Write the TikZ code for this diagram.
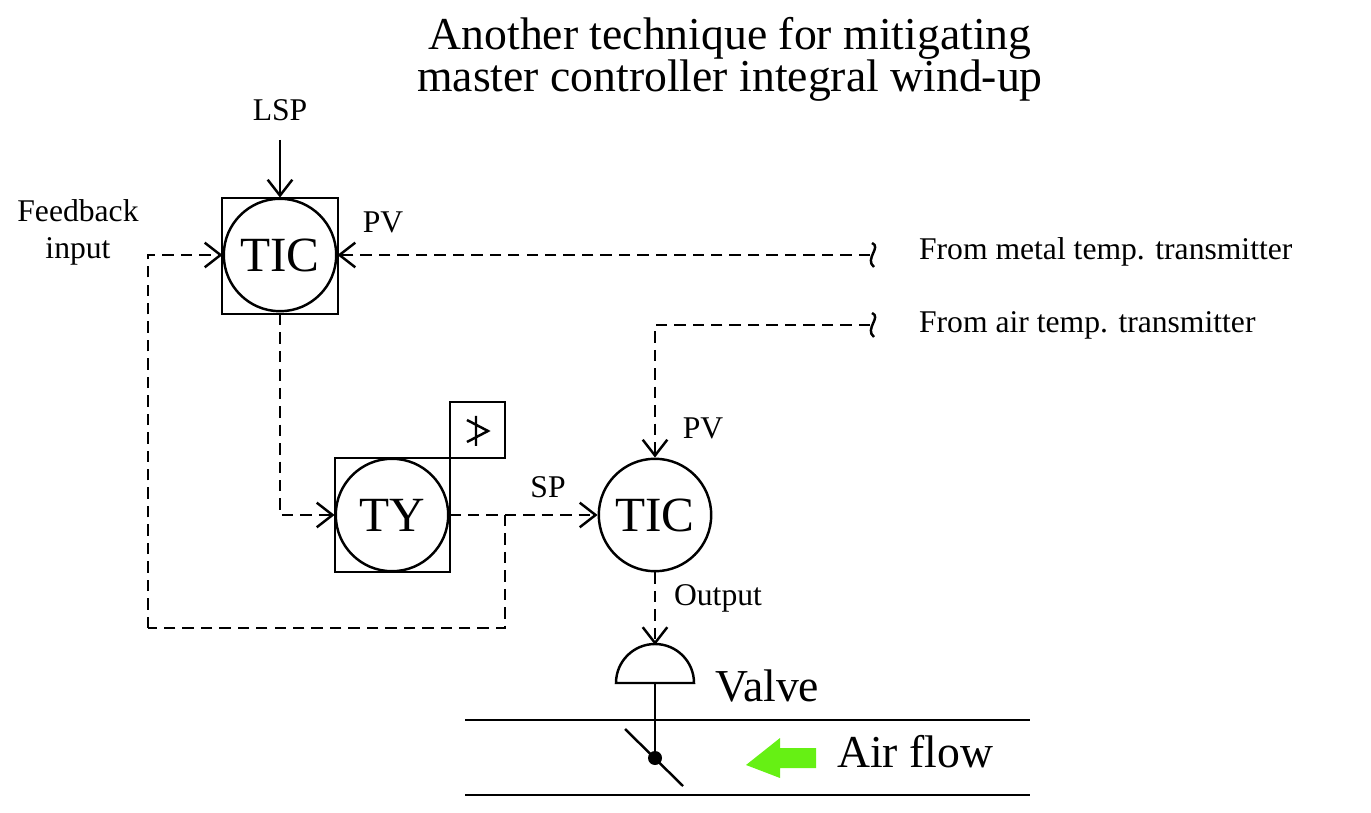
\documentclass[tikz,border=0pt]{standalone}
\usepackage{fontspec}
\setmainfont{Liberation Serif}
\usetikzlibrary{arrows.meta}
\definecolor{flowgreen}{RGB}{102,240,20}
\tikzset{
  sig/.style={line width=1.4pt, dash pattern=on 6.5pt off 4pt},
  tip/.style={-{Straight Barb[length=9pt,width=14pt,line width=1.4pt]}},
  inst/.style={circle, draw, line width=1.4pt, minimum size=64pt, inner sep=0pt, font=\fontsize{28}{28}\selectfont},
  lbl/.style={font=\fontsize{18}{21}\selectfont},
  big/.style={font=\fontsize{26}{26}\selectfont}
}
\begin{document}
\begin{tikzpicture}[x=0.02cm, y=-0.02cm, line width=1.4pt]
  \useasboundingbox (0,0) rectangle (1371,813);
  % title
  \node[font=\fontsize{26}{24}\selectfont, align=center] (title) at (730,59) {Another technique for mitigating\\master controller integral wind-up};
  % instruments
  \node[inst] (tic1) at (280,255) {TIC};
  \draw (222,198) rectangle (338,314);
  \node[inst] (ty) at (392,515) {TY};
  \draw (335,458) rectangle (450,572);
  \draw (450,402) rectangle (505,458);
  \draw (467,420) -- (488,431) -- (467,442) (476,416) -- (476,446);
  \node[inst] (tic2) at (655,515) {TIC};
  % labels
  \node[lbl] (lsp) at (280,110) {LSP};
  \coordinate (lspin) at (280,140);
  \node[lbl, align=center] (fb) at (78,232) {Feedback\\input};
  \node[lbl] (pv1) at (383,222) {PV};
  \node[lbl] (pv2) at (703,428) {PV};
  \node[lbl] (sp) at (548,487) {SP};
  \node[lbl] (out) at (718,598) {Output};
  \node[lbl, anchor=west] (metal) at (912,252) {From metal temp. transmitter};
  \node[lbl, anchor=west] (air) at (912,325) {From air temp. transmitter};
  % break marks
  \coordinate (brk1) at (870,255);
  \coordinate (brk2) at (870,325);
  \foreach \b in {brk1,brk2}
    \draw ([shift={(2,-12)}]\b) .. controls ([shift={(12,-8)}]\b) and ([shift={(-6,4)}]\b) .. ([shift={(4,12)}]\b);
  % signal lines
  \draw[tip] (lspin) -- (tic1.north);
  \coordinate (fbc) at (148,255);
  \coordinate (fbl) at (148,628);
  \coordinate (fbr) at (505,628);
  \coordinate (fbt) at (505,515);
  \draw[sig, tip] (fbl) -- (fbc) -- (tic1.west);
  \draw[sig, tip] (brk1) -- (tic1.east);
  \draw[sig, tip] (280,314) -- (280,515) -- (ty.west);
  \draw[sig, tip] (ty.east) -- (tic2.west);
  \draw[sig] (fbt) -- (fbr) -- (fbl);
  \draw[sig, tip] (brk2) -- (655,325) -- (tic2.north);
  % valve
  \coordinate (act) at (655,683);
  \coordinate (dome) at (655,645);
  \draw[sig, tip] (tic2.south) -- (dome);
  \draw (616,683) arc[start angle=180, end angle=360, radius=39] -- cycle;
  \coordinate (disc) at (655,758);
  \draw (act) -- (disc);
  \fill (disc) circle (7);
  \draw (625,729) -- (683,786);
  \node[big, anchor=west] (valve) at (708,686) {Valve};
  % pipe
  \draw (465,720) -- (1030,720);
  \draw (465,795) -- (1030,795);
  \fill[flowgreen] (816,748) -- (780,748) -- (780,738) -- (746,765) -- (780,778) -- (780,768) -- (816,768) -- cycle;
  \node[big, anchor=west] (flow) at (830,752) {Air flow};
\end{tikzpicture}
\end{document}
